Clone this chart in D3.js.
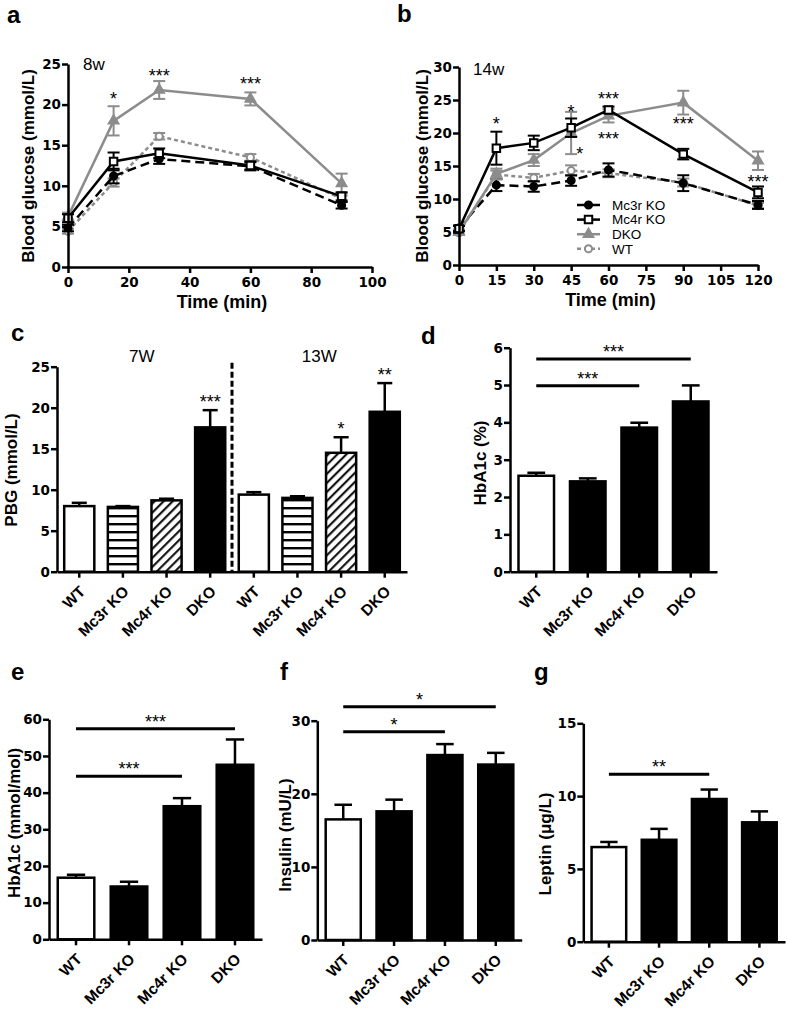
<!DOCTYPE html>
<html>
<head>
<meta charset="utf-8">
<script src="https://cdn.jsdelivr.net/npm/d3@7"></script>
<style>
  body { margin: 0; background: #fff; }
  svg { display: block; }
  text { font-family: "Liberation Sans", Arial, Helvetica, sans-serif; }
</style>
</head>
<body>
<svg id="fig" width="787" height="1013"></svg>
<script>
// ---- data ----
const groups = ["WT", "Mc3r KO", "Mc4r KO", "DKO"];
const legendOrder = ["Mc3r KO", "Mc4r KO", "DKO", "WT"];

// panel a, 8 weeks
const timeA = [0, 15, 30, 60, 90];
const aMc3r = [4.8, 11.2, 13.3, 12.4, 7.6];
const aMc3rSem = [0.4, 0.9, 0.6, 0.5, 0.4];
const aMc4r = [6.0, 13.0, 14.0, 12.5, 8.7];
const aMc4rSem = [0.5, 1.1, 0.6, 0.5, 0.5];
const aDko = [6.2, 18.0, 21.8, 20.7, 10.3];
const aDkoSem = [0.5, 1.8, 1.1, 0.8, 1.2];
const aWt = [4.4, 10.4, 16.1, 13.5, 8.4];
const aWtSem = [0.3, 0.5, 0.4, 0.4, 0.4];
const aStars = [[15, 19.9, "*"], [30, 22.8, "***"], [60, 21.8, "***"]];

// panel b, 14 weeks
const timeB = [0, 15, 30, 45, 60, 90, 120];
const bMc3r = [5.6, 12.1, 11.9, 12.8, 14.4, 12.4, 9.1];
const bMc3rSem = [0.4, 0.9, 0.8, 0.8, 1.0, 1.2, 0.6];
const bMc4r = [5.5, 17.7, 18.5, 20.8, 23.5, 16.8, 11.0];
const bMc4rSem = [0.4, 2.5, 1.1, 1.4, 0.5, 0.8, 0.9];
const bDko = [5.0, 13.8, 15.9, 20.0, 22.6, 24.6, 15.8];
const bDkoSem = [0.4, 0.8, 0.9, 3.2, 1.0, 1.8, 1.4];
const bWt = [4.9, 13.7, 13.2, 14.3, 13.9, 12.5, 9.0];
const bWtSem = [0.3, 0.6, 0.6, 0.8, 0.6, 0.6, 0.4];
const bStars = [[15, 20.4, "*"], [45, 22.2, "*"], [60, 24.2, "***"], [60, 18.2, "***"],
                [48.5, 15.9, "*"], [90, 20.4, "***"], [120, 11.7, "***"]];

// panel c, PBG
const pbg7 = [8.0, 7.9, 8.7, 17.6];
const pbg7Sem = [0.4, 0.1, 0.2, 2.1];
const pbg7Stars = ["", "", "", "***"];
const pbg13 = [9.4, 9.0, 14.5, 19.5];
const pbg13Sem = [0.3, 0.2, 1.9, 3.5];
const pbg13Stars = ["", "", "*", "**"];

// panel d, HbA1c %
const hbPct = [2.57, 2.42, 3.86, 4.56];
const hbPctSem = [0.08, 0.08, 0.13, 0.43];
const hbPctSig = [[0, 2, 4.98, "***"], [0, 3, 5.7, "***"]];

// panel e, HbA1c mmol/mol
const hbMol = [16.8, 14.4, 36.3, 47.6];
const hbMolSem = [0.8, 1.3, 2.2, 6.9];
const hbMolSig = [[0, 2, 44.5, "***"], [0, 3, 57.4, "***"]];

// panel f, insulin
const insulin = [16.5, 17.6, 25.3, 24.0];
const insulinSem = [2.0, 1.6, 1.5, 1.6];
const insulinSig = [[0, 2, 28.5, "*"], [0, 3, 31.9, "*"]];

// panel g, leptin
const leptin = [6.5, 7.0, 9.8, 8.2];
const leptinSem = [0.35, 0.75, 0.65, 0.75];
const leptinSig = [[0, 2, 11.5, "**"]];

// ---- drawing ----
const svg = d3.select("#fig");
const grey = "#8c8c8c";
const AX = 2.5;

const styles = {
  "Mc3r KO": { color: "#000", dash: "9,5", symbol: d3.symbolCircle, size: 40, fill: "#000" },
  "Mc4r KO": { color: "#000", dash: null, symbol: d3.symbolSquare, size: 56, fill: "#fff" },
  "DKO":     { color: grey, dash: null, symbol: d3.symbolTriangle, size: 40, fill: grey },
  "WT":      { color: grey, dash: "4,3", symbol: d3.symbolCircle, size: 40, fill: "#fff" }
};

const defs = svg.append("defs");
defs.append("pattern").attr("id", "hstripe")
    .attr("patternUnits", "userSpaceOnUse").attr("width", 8).attr("height", 8)
  .call(p => {
    p.append("rect").attr("width", 8).attr("height", 8).attr("fill", "#fff");
    p.append("rect").attr("y", 3).attr("width", 8).attr("height", 2.4).attr("fill", "#000");
  });
defs.append("pattern").attr("id", "dstripe")
    .attr("patternUnits", "userSpaceOnUse").attr("width", 6.4).attr("height", 6.4)
    .attr("patternTransform", "rotate(45)")
  .call(p => {
    p.append("rect").attr("width", 6.4).attr("height", 6.4).attr("fill", "#fff");
    p.append("rect").attr("x", 2).attr("width", 2).attr("height", 6.4).attr("fill", "#000");
  });

// numeric ticks: wide bold digits like the original
function styleAxis(g) {
  g.select(".domain").attr("stroke", "#000").attr("stroke-width", AX);
  g.selectAll(".tick line").attr("stroke", "#000").attr("stroke-width", AX);
  g.selectAll(".tick text").attr("fill", "#000")
    .attr("font-size", 13.5).attr("font-weight", "bold")
    .style("font-family", '"DejaVu Sans", "Liberation Sans", Arial, sans-serif');
}

function panelLetter(t, x, y) {
  svg.append("text").attr("x", x).attr("y", y).attr("font-size", 24)
    .attr("font-weight", "bold").attr("fill", "#000").text(t);
}

function yTitle(t, x, y) {
  svg.append("text").attr("transform", `translate(${x},${y}) rotate(-90)`)
    .attr("text-anchor", "middle").attr("dy", "0.35em").attr("fill", "#000")
    .attr("font-size", 17).attr("font-weight", "bold").text(t);
}

function star(g, x, y, s) {
  g.append("text").attr("x", x).attr("y", y).attr("text-anchor", "middle")
    .attr("fill", "#000").attr("font-size", 18).text(s);
}

function linePanel(o) {
  const x = d3.scaleLinear().domain(o.xDomain).range(o.xRange);
  const y = d3.scaleLinear().domain(o.yDomain).range(o.yRange);
  const g = svg.append("g");

  ["WT", "Mc3r KO", "DKO", "Mc4r KO"].forEach(name => {
    const st = styles[name];
    const vals = o.series[name][0], sem = o.series[name][1];
    const pts = o.time.map((t, i) => ({ t: t, v: vals[i], e: sem[i] }));
    const eb = g.append("g").attr("stroke", st.color).attr("stroke-width", 2);
    pts.forEach(p => {
      eb.append("line").attr("x1", x(p.t)).attr("x2", x(p.t))
        .attr("y1", y(p.v - p.e)).attr("y2", y(p.v + p.e));
      [p.v - p.e, p.v + p.e].forEach(v => eb.append("line")
        .attr("x1", x(p.t) - 6).attr("x2", x(p.t) + 6).attr("y1", y(v)).attr("y2", y(v)));
    });
    g.append("path").datum(pts)
      .attr("fill", "none").attr("stroke", st.color).attr("stroke-width", 2.5)
      .attr("stroke-dasharray", st.dash)
      .attr("d", d3.line().x(d => x(d.t)).y(d => y(d.v)));
    g.selectAll(null).data(pts).enter().append("path")
      .attr("transform", d => `translate(${x(d.t)},${y(d.v)})`)
      .attr("d", d3.symbol().type(st.symbol).size(st.size))
      .attr("fill", st.fill).attr("stroke", st.color).attr("stroke-width", 2);
  });

  g.append("g").attr("transform", `translate(0,${o.yRange[0]})`)
    .call(d3.axisBottom(x).tickValues(o.xTicks).tickSize(6).tickSizeOuter(0).tickPadding(4))
    .call(styleAxis);
  g.append("g").attr("transform", `translate(${o.xRange[0]},0)`)
    .call(d3.axisLeft(y).tickValues(o.yTicks).tickSize(6).tickSizeOuter(0).tickPadding(1))
    .call(styleAxis);

  o.stars.forEach(s => star(g, x(s[0]), y(s[1]), s[2]));

  g.append("text").attr("x", (o.xRange[0] + o.xRange[1]) / 2 + 2).attr("y", o.yRange[0] + 41)
    .attr("text-anchor", "middle").attr("font-size", 18).attr("font-weight", "bold")
    .attr("fill", "#000").text("Time (min)");
  g.append("text").attr("x", o.tag[1]).attr("y", o.tag[2]).attr("font-size", 17)
    .attr("fill", "#000").text(o.tag[0]);
  return { x: x, y: y, g: g };
}

function barPanel(o) {
  const n = o.values.length;
  const x = d3.scaleBand().domain(d3.range(n)).range(o.xRange).paddingInner(0.31).paddingOuter(0.165);
  const y = d3.scaleLinear().domain(o.yDomain).range(o.yRange);
  const bw = x.bandwidth();
  const g = svg.append("g");

  o.values.forEach((v, i) => {
    const cx = x(i) + bw / 2;
    const top = y(v + o.sem[i]);
    g.append("line").attr("x1", cx).attr("x2", cx).attr("y1", y(v)).attr("y2", top)
      .attr("stroke", "#000").attr("stroke-width", AX);
    g.append("line").attr("x1", cx - bw / 4).attr("x2", cx + bw / 4).attr("y1", top).attr("y2", top)
      .attr("stroke", "#000").attr("stroke-width", AX);
    g.append("rect").attr("x", x(i)).attr("y", y(v)).attr("width", bw)
      .attr("height", y(0) - y(v)).attr("fill", o.fills[i % o.fills.length])
      .attr("stroke", "#000").attr("stroke-width", AX);
    if (o.stars && o.stars[i]) star(g, cx, top - 2, o.stars[i]);
  });

  (o.sig || []).forEach(s => {
    const x1 = x(s[0]) + bw / 2, x2 = x(s[1]) + bw / 2;
    g.append("line").attr("x1", x1).attr("x2", x2).attr("y1", y(s[2])).attr("y2", y(s[2]))
      .attr("stroke", "#000").attr("stroke-width", 3);
    star(g, (x1 + x2) / 2, y(s[2]) - 1, s[3]);
  });

  const xa = g.append("g").attr("transform", `translate(0,${o.yRange[0]})`)
    .call(d3.axisBottom(x).tickFormat(i => o.labels[i]).tickSize(6).tickSizeOuter(0))
    .call(styleAxis);
  xa.selectAll(".tick text").attr("x", null).attr("y", null).attr("dy", "0.35em")
    .attr("font-size", 15.5)
    .style("font-family", '"Liberation Sans", Arial, sans-serif')
    .attr("text-anchor", "end").attr("transform", "translate(3,17) rotate(-45)");
  g.append("g").attr("transform", `translate(${o.xRange[0]},0)`)
    .call(d3.axisLeft(y).tickValues(o.yTicks).tickFormat(d3.format("d"))
      .tickSize(6).tickSizeOuter(0).tickPadding(1))
    .call(styleAxis);
  return { x: x, y: y, g: g, bw: bw };
}

// a
linePanel({
  time: timeA, xDomain: [0, 100], xRange: [68, 372], yDomain: [0, 25], yRange: [267, 64],
  xTicks: [0, 20, 40, 60, 80, 100], yTicks: [0, 5, 10, 15, 20, 25],
  series: { "Mc3r KO": [aMc3r, aMc3rSem], "Mc4r KO": [aMc4r, aMc4rSem], "DKO": [aDko, aDkoSem], "WT": [aWt, aWtSem] },
  stars: aStars, tag: ["8w", 83, 70]
});

// b
linePanel({
  time: timeB, xDomain: [0, 120], xRange: [459, 758], yDomain: [0, 30], yRange: [265, 67],
  xTicks: [0, 15, 30, 45, 60, 75, 90, 105, 120], yTicks: [0, 5, 10, 15, 20, 25, 30],
  series: { "Mc3r KO": [bMc3r, bMc3rSem], "Mc4r KO": [bMc4r, bMc4rSem], "DKO": [bDko, bDkoSem], "WT": [bWt, bWtSem] },
  stars: bStars, tag: ["14w", 473, 75]
});

// legend of b
const leg = svg.append("g");
legendOrder.forEach((name, i) => {
  const st = styles[name];
  const ly = 205 + i * 14.6;
  leg.append("line").attr("x1", 577).attr("x2", 600).attr("y1", ly).attr("y2", ly)
    .attr("stroke", st.color).attr("stroke-width", 2.5).attr("stroke-dasharray", st.dash);
  leg.append("path").attr("transform", `translate(588.5,${ly})`)
    .attr("d", d3.symbol().type(st.symbol).size(st.size))
    .attr("fill", st.fill).attr("stroke", st.color).attr("stroke-width", 2);
  leg.append("text").attr("x", 612).attr("y", ly).attr("dy", "0.35em")
    .attr("fill", "#000").attr("font-size", 13.5).text(name);
});

// c
const pc = barPanel({
  values: pbg7.concat(pbg13), sem: pbg7Sem.concat(pbg13Sem), labels: groups.concat(groups),
  stars: pbg7Stars.concat(pbg13Stars),
  fills: ["#fff", "url(#hstripe)", "url(#dstripe)", "#000"],
  xRange: [57, 407], yDomain: [0, 25], yRange: [571.7, 366.7], yTicks: [0, 5, 10, 15, 20, 25]
});
const divX = (pc.x(3) + pc.bw + pc.x(4)) / 2;
pc.g.append("line").attr("x1", divX).attr("x2", divX).attr("y1", pc.y(25) - 4).attr("y2", pc.y(0))
  .attr("stroke", "#000").attr("stroke-width", 3).attr("stroke-dasharray", "6,3");
pc.g.append("text").attr("x", (pc.x(0) + pc.x(3) + pc.bw) / 2 - 3).attr("y", 362)
  .attr("text-anchor", "middle").attr("font-size", 17).attr("fill", "#000").text("7W");
pc.g.append("text").attr("x", (pc.x(4) + pc.x(7) + pc.bw) / 2).attr("y", 362)
  .attr("text-anchor", "middle").attr("font-size", 17).attr("fill", "#000").text("13W");

// d
barPanel({
  values: hbPct, sem: hbPctSem, labels: groups, sig: hbPctSig, fills: ["#fff", "#000", "#000", "#000"],
  xRange: [510, 717], yDomain: [0, 6], yRange: [571.7, 347.7], yTicks: [0, 1, 2, 3, 4, 5, 6]
});
// e
barPanel({
  values: hbMol, sem: hbMolSem, labels: groups, sig: hbMolSig, fills: ["#fff", "#000", "#000", "#000"],
  xRange: [49, 262], yDomain: [0, 60], yRange: [939.3, 719.3], yTicks: [0, 10, 20, 30, 40, 50, 60]
});
// f
barPanel({
  values: insulin, sem: insulinSem, labels: groups, sig: insulinSig, fills: ["#fff", "#000", "#000", "#000"],
  xRange: [317.3, 521.7], yDomain: [0, 30], yRange: [940, 720.7], yTicks: [0, 10, 20, 30]
});
// g
barPanel({
  values: leptin, sem: leptinSem, labels: groups, sig: leptinSig, fills: ["#fff", "#000", "#000", "#000"],
  xRange: [583.3, 785], yDomain: [0, 15], yRange: [941.7, 723.3], yTicks: [0, 5, 10, 15]
});

yTitle("Blood glucose (mmol/L)", 28, 166);
yTitle("Blood glucose (mmol/L)", 422, 166);
yTitle("PBG (mmol/L)", 11, 470);
yTitle("HbA1c (%)", 480, 463);
yTitle("HbA1c (mmol/mol)", 14, 823);
yTitle("Insulin (mU/L)", 285, 835);
yTitle("Leptin (\u03bcg/L)", 545, 844);

panelLetter("a", 7, 23);
panelLetter("b", 397, 22);
panelLetter("c", 11, 341);
panelLetter("d", 421, 344);
panelLetter("e", 11, 680);
panelLetter("f", 280, 680);
panelLetter("g", 534, 680);
</script>
</body>
</html>
